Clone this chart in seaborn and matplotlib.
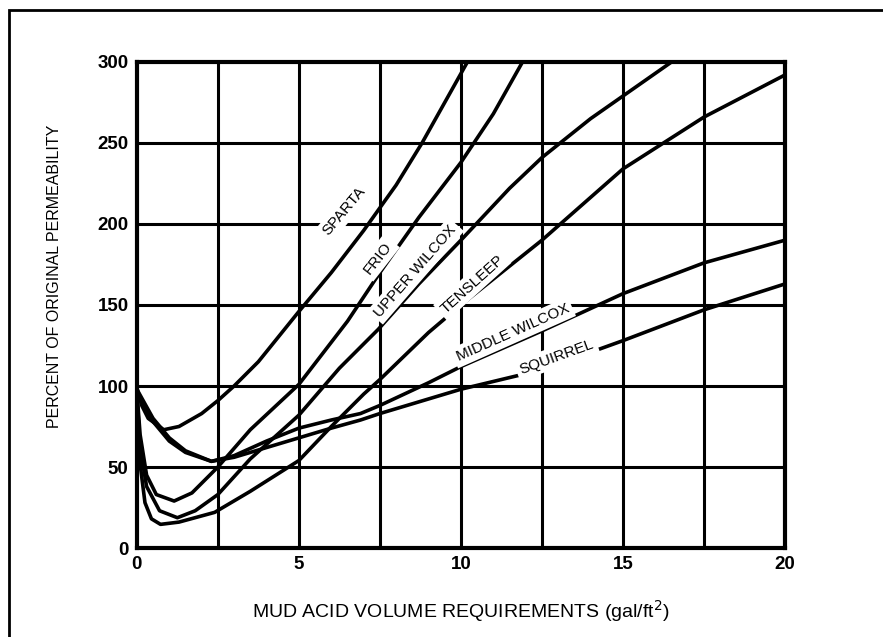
import matplotlib
matplotlib.use("Agg")
import matplotlib.pyplot as plt
import seaborn as sns
import pandas as pd

# ---- data ----
sparta_x = [0.0, 0.15, 0.35, 0.83, 1.3, 2.0, 2.5, 3.0, 3.75, 5.0, 6.0, 7.0, 8.0, 8.8, 9.5, 10.2]
sparta_y = [99, 88, 80, 73, 75, 83, 91, 100, 115, 146, 170, 196, 224, 250, 275, 300]

frio_x = [0.0, 0.1, 0.3, 0.6, 1.15, 1.7, 2.5, 3.5, 5.0, 5.5, 6.5, 7.5, 8.7, 10.0, 11.0, 11.9]
frio_y = [97, 70, 45, 33, 29, 34, 50, 73, 101, 114, 140, 170, 204, 238, 268, 300]

upper_wilcox_x = [0.0, 0.1, 0.3, 0.7, 1.25, 1.8, 2.5, 3.5, 5.0, 6.25, 7.45, 8.7, 10.0, 11.5, 12.5, 14.0, 15.0, 16.5]
upper_wilcox_y = [96, 62, 38, 23, 18.7, 23, 33, 55, 82, 111, 135, 163, 190, 222, 241, 265, 279, 300]

tensleep_x = [0.0, 0.08, 0.25, 0.45, 0.73, 1.3, 2.4, 3.5, 5.0, 6.0, 7.0, 7.5, 9.0, 10.0, 12.5, 15.0, 17.5, 20.0]
tensleep_y = [92, 55, 28, 18, 14.6, 16, 22, 35, 54, 75, 95, 104, 133, 150, 190, 234, 266, 292]

middle_wilcox_x = [0.0, 0.5, 1.0, 1.5, 2.3, 3.0, 4.0, 5.0, 6.0, 6.9, 7.5, 9.0, 10.0, 12.5, 15.0, 17.5, 20.0]
middle_wilcox_y = [98, 80, 68, 60, 53.5, 57, 66, 74, 79, 83, 88, 102, 112, 134, 157, 176, 190]

squirrel_x = [0.0, 0.5, 1.0, 1.5, 2.3, 3.0, 4.0, 5.0, 6.0, 6.9, 7.5, 9.0, 10.0, 12.5, 15.0, 17.5, 20.0]
squirrel_y = [96, 78, 66, 59, 53.5, 56, 62, 68, 74, 79, 83, 92, 98, 110, 128, 147, 163]

curve_names = ["SPARTA", "FRIO", "UPPER WILCOX", "TENSLEEP", "MIDDLE WILCOX", "SQUIRREL"]
x_ticks = [0, 5, 10, 15, 20]
y_ticks = [0, 50, 100, 150, 200, 250, 300]
x_label = "MUD ACID VOLUME REQUIREMENTS (gal/ft$^2$)"
y_label = "PERCENT OF ORIGINAL PERMEABILITY"

# label placement (data coords) and rotation
label_x = [6.4, 7.45, 8.6, 10.35, 11.6, 12.95]
label_y = [208, 179, 171, 163, 133, 118]
label_rot = [50, 52, 49, 42, 24, 20]

series = [(sparta_x, sparta_y), (frio_x, frio_y), (upper_wilcox_x, upper_wilcox_y),
          (tensleep_x, tensleep_y), (middle_wilcox_x, middle_wilcox_y), (squirrel_x, squirrel_y)]
rows = []
for name, (xs, ys) in zip(curve_names, series):
    for a, b in zip(xs, ys):
        rows.append({"curve": name, "x": a, "y": b})
df = pd.DataFrame(rows)

sns.set_theme(style="white")
plt.rcParams["font.family"] = ["Liberation Sans", "DejaVu Sans"]
plt.rcParams["text.color"] = "black"

fig = plt.figure(figsize=(8.83, 6.37), dpi=100)
ax = fig.add_axes([0.155, 0.1397, 0.734, 0.763])

# grid lines every 2.5 x, 50 y
for gx in [2.5 * i for i in range(1, 8)]:
    ax.axvline(gx, color="black", lw=2.2, zorder=1)
for gy in [50, 100, 150, 200, 250]:
    ax.axhline(gy, color="black", lw=2.2, zorder=1)

sns.lineplot(data=df, x="x", y="y", units="curve", estimator=None, sort=False,
             color="black", lw=2.6, ax=ax, zorder=3)

for name, lx, ly, rot in zip(curve_names, label_x, label_y, label_rot):
    ax.text(lx, ly, name, rotation=rot, rotation_mode="anchor", ha="center", va="center",
            fontsize=11, color="black", zorder=4,
            bbox=dict(facecolor="white", edgecolor="none", pad=2.5))

ax.set_xlim(0, 20)
ax.set_ylim(0, 300)
ax.set_xticks(x_ticks)
ax.set_yticks(y_ticks)
ax.set_xticklabels([str(t) for t in x_ticks], fontsize=13.5, fontweight="bold", color="black")
ax.set_yticklabels([str(t) for t in y_ticks], fontsize=13.5, fontweight="bold", color="black")
ax.tick_params(length=0, pad=6, colors="black")
ax.set_xlabel(x_label, fontsize=14, color="black")
ax.set_ylabel(y_label, fontsize=11.5, color="black")
ax.xaxis.set_label_coords(0.50, -0.13)
ax.xaxis.label.set_va("center")
ax.yaxis.set_label_coords(-0.1265, 0.56)
ax.yaxis.label.set_va("center")
for s in ax.spines.values():
    s.set_visible(True)
    s.set_color("black")
    s.set_linewidth(3)

# outer frame (cropped at right and bottom like the reference)
fig.patches.append(plt.Rectangle((0.010, -0.2), 1.2, 1.185, transform=fig.transFigure,
                                 fill=False, edgecolor="black", lw=2))

fig.savefig("out.png", dpi=100, facecolor="white")
